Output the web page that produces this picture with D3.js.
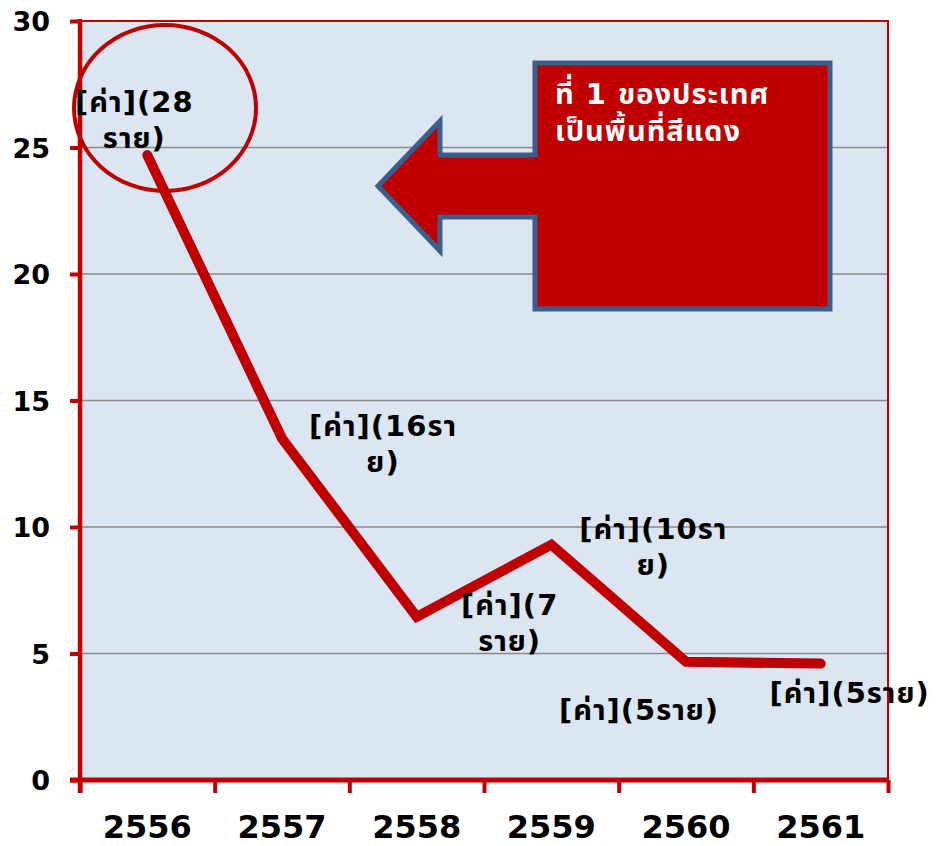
<!DOCTYPE html>
<html>
<head>
<meta charset="utf-8">
<script src="https://cdn.jsdelivr.net/npm/d3@7"></script>
<style>
  body { margin: 0; background: #fff; }
  text { font-family: "DejaVu Sans", "Noto Sans Thai", "Noto Sans", sans-serif; font-weight: bold; }
</style>
</head>
<body>
<script>
// data
const years = ["2556", "2557", "2558", "2559", "2560", "2561"];
const cases = [24.7, 13.5, 6.45, 9.3, 4.67, 4.6];
const labelLines = [
	["[ค่า](28", "ราย)"],
	["[ค่า](16รา", "ย)"],
	["[ค่า](7", "ราย)"],
	["[ค่า](10รา", "ย)"],
	["[ค่า](5ราย)"],
	["[ค่า](5ราย)"]
];
const yTicks = [0, 5, 10, 15, 20, 25, 30];
const calloutLines = ["ที่ 1 ของประเทศ", "เป็นพื้นที่สีแดง"];

// label placement (center x, first baseline) relative to each point
const labelOffset = [[-13, -43], [101, -2], [93, -2], [102, -6], [-47, 58], [29, 39]];

function init(){
	const W = 940, H = 846;
	const left = 80, right = 888, top = 21, bottom = 780;
	const red = "#c00000";

	const svg = d3.select("body").append("svg")
		.attr("width", W)
		.attr("height", H);

	const x = d3.scaleBand().domain(years).range([left, right]);
	const y = d3.scaleLinear().domain([0, 30]).range([bottom, top]);

	// plot background
	svg.append("rect")
		.attr("x", left)
		.attr("y", top)
		.attr("width", right - left)
		.attr("height", bottom - top)
		.attr("fill", "#dce6f2");

	// gridlines
	svg.append("g")
		.selectAll("line")
		.data(yTicks.filter(d => d > 0 && d < 30))
		.join("line")
		.attr("x1", left)
		.attr("x2", right)
		.attr("y1", d => y(d))
		.attr("y2", d => y(d))
		.attr("stroke", "#8a8a8a")
		.attr("stroke-width", 1.5);

	// top / right frame
	svg.append("path")
		.attr("d", `M${left},${top}H${right}V${bottom}`)
		.attr("fill", "none")
		.attr("stroke", red)
		.attr("stroke-width", 2);

	// y axis
	const yAxis = svg.append("g")
		.attr("transform", `translate(${left},0)`)
		.call(d3.axisLeft(y).tickValues(yTicks).tickSize(10).tickPadding(20));
	yAxis.select(".domain").remove();
	yAxis.selectAll(".tick line").attr("stroke", red).attr("stroke-width", 4);
	yAxis.selectAll(".tick text")
		.attr("fill", "#000")
		.attr("dy", "0.36em")
		.style("font-size", "27px");
	svg.append("line")
		.attr("x1", left).attr("x2", left)
		.attr("y1", top - 2).attr("y2", bottom + 13)
		.attr("stroke", red).attr("stroke-width", 4.5);

	// x axis: ticks at category boundaries, labels at centres
	const xb = d3.scaleLinear().domain([0, years.length]).range([left, right]);
	const xTicks = svg.append("g")
		.attr("transform", `translate(0,${bottom})`)
		.call(d3.axisBottom(xb).ticks(years.length).tickSize(13).tickFormat(""));
	xTicks.select(".domain").remove();
	xTicks.selectAll(".tick line").attr("stroke", red).attr("stroke-width", 4);

	const xAxis = svg.append("g")
		.attr("transform", `translate(0,${bottom})`)
		.call(d3.axisBottom(x).tickSize(0).tickPadding(35));
	xAxis.select(".domain").remove();
	xAxis.selectAll(".tick text")
		.attr("fill", "#000")
		.style("font-size", "32px");
	svg.append("line")
		.attr("x1", left - 10).attr("x2", right + 1)
		.attr("y1", bottom).attr("y2", bottom)
		.attr("stroke", red).attr("stroke-width", 5);

	// series line
	const line = d3.line()
		.x((d, i) => x(years[i]) + x.bandwidth() / 2)
		.y(d => y(d));
	svg.append("path")
		.datum(cases)
		.attr("d", line)
		.attr("fill", "none")
		.attr("stroke", red)
		.attr("stroke-width", 10)
		.attr("stroke-linecap", "round");

	// circle highlight
	svg.append("ellipse")
		.attr("cx", 165)
		.attr("cy", 108)
		.attr("rx", 91)
		.attr("ry", 83)
		.attr("fill", "none")
		.attr("stroke", red)
		.attr("stroke-width", 4);

	// data labels
	const labels = svg.append("g");
	labelLines.forEach((lines, i) => {
		const cx = x(years[i]) + x.bandwidth() / 2 + labelOffset[i][0];
		const by = y(cases[i]) + labelOffset[i][1];
		const t = labels.append("text")
			.attr("text-anchor", "middle")
			.attr("fill", "#000")
			.style("font-size", "29px")
			.style("letter-spacing", "1px");
		lines.forEach((s, j) => {
			t.append("tspan")
				.attr("x", cx)
				.attr("y", by + j * 36)
				.text(s);
		});
	});

	// arrow callout
	svg.append("path")
		.attr("d", "M535,63 L830,63 L830,309 L535,309 L535,217 L440,217 L440,251 L378,186 L440,121 L440,155 L535,155 Z")
		.attr("fill", red)
		.attr("stroke", "#3a5f8d")
		.attr("stroke-width", 5)
		.attr("stroke-linejoin", "miter");

	const callout = svg.append("text")
		.attr("fill", "#fff")
		.style("font-size", "29px")
		.style("letter-spacing", "1px");
	calloutLines.forEach((s, j) => {
		callout.append("tspan")
			.attr("x", 555)
			.attr("y", 104 + j * 37)
			.text(s);
	});
}
init();
</script>
</body>
</html>
